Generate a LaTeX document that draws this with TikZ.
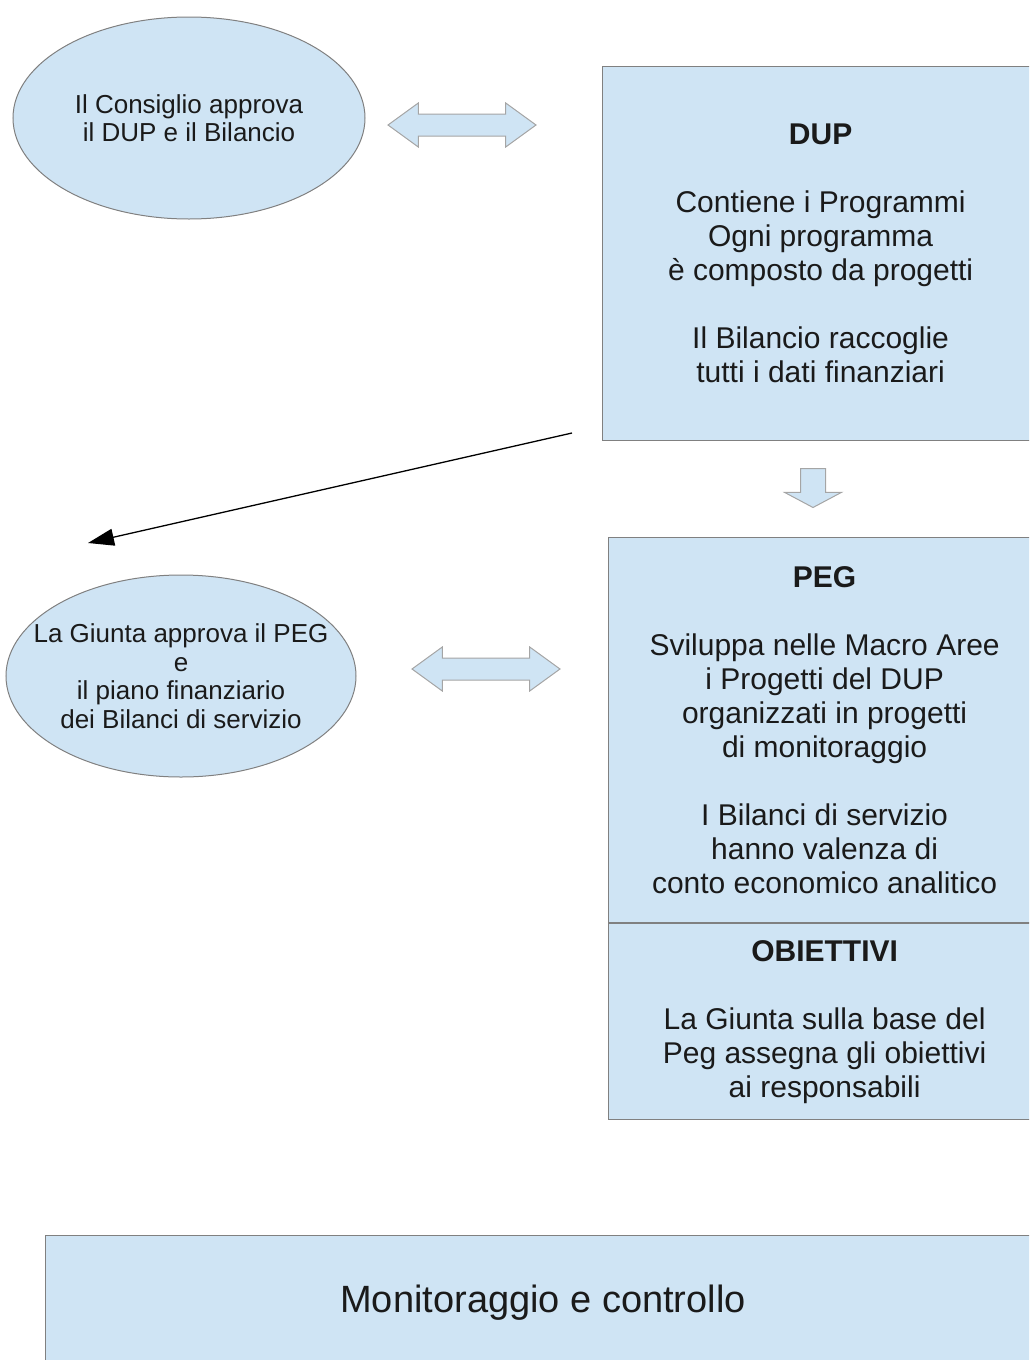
\documentclass[tikz,border=0pt]{standalone}
\usepackage{fontspec}
\setmainfont{Liberation Sans}
\usetikzlibrary{shapes.geometric,shapes.arrows,arrows.meta}
\definecolor{boxblue}{RGB}{207,228,244}
\definecolor{boxline}{RGB}{128,128,128}
\definecolor{arrline}{RGB}{165,165,165}
\definecolor{txt}{RGB}{26,26,26}

\begin{document}
\begin{tikzpicture}[x=1pt,y=-1pt,
    organo/.style={ellipse,draw=boxline,fill=boxblue,line width=1pt,minimum width=352pt,minimum height=202pt,inner sep=0pt},
    testo/.style={align=center,text=txt,font=\fontsize{26}{28.5}\selectfont},
    atto/.style={rectangle,draw=boxline,fill=boxblue,line width=1.2pt,anchor=north west,inner sep=0pt,align=center,text=txt,font=\fontsize{30}{34}\selectfont},
    scambio/.style={double arrow,draw=arrline,fill=boxblue,line width=1pt,inner sep=0pt,inner ysep=10.5pt,double arrow head extend=11pt,double arrow tip angle=72,minimum height=148pt,minimum width=43pt},
    freccia/.style={single arrow,shape border rotate=270,draw=arrline,fill=boxblue,line width=1pt,inner sep=12pt,single arrow head extend=16pt,single arrow tip angle=124,minimum height=39pt}]

            \useasboundingbox (0,0) rectangle (1029,1360);
            \clip (0,0) rectangle (1029,1360);

            \node[organo] (consiglio) at (189,118) {};
            \node[testo] at (consiglio) {Il Consiglio approva\\ il DUP e il Bilancio};
            \node[organo,minimum width=350pt] (giunta) at (181,676) {};
            \node[testo] at (giunta) {La Giunta approva il PEG\\e\\il piano finanziario\\dei Bilanci di servizio};

            \node[scambio] (sc1) at (462,125) {};
            \node[scambio] (sc2) at (486,669) {};

            \node[atto,minimum width=436pt,minimum height=374pt] (dup) at (602,66) {\textbf{DUP}\\[34pt]Contiene i Programmi\\Ogni programma\\è composto da progetti\\[34pt]Il Bilancio raccoglie\\tutti i dati finanziari};
            \node[freccia,anchor=tail] (giu) at (813,468) {};
            \node[atto,minimum width=432pt,minimum height=385pt] (peg) at (608,537) {\textbf{PEG}\\[34pt]Sviluppa nelle Macro Aree\\i Progetti del DUP\\organizzati in progetti\\di monitoraggio\\[34pt]I Bilanci di servizio\\hanno valenza di\\conto economico analitico};
            \node[atto,minimum width=432pt,minimum height=196pt] (obj) at (peg.south west) {\textbf{OBIETTIVI}\\[34pt]La Giunta sulla base del\\Peg assegna gli obiettivi\\ai responsabili};

            \node[atto,minimum width=995pt,minimum height=134pt,font=\fontsize{38}{44}\selectfont] (monit) at (45,1235) {Monitoraggio e controllo};

            \coordinate (da) at (572,433);
            \coordinate (a) at (88,543);
            \draw[-{Triangle[length=26pt,width=17pt]},line width=1.3pt] (da) -- (a);
\end{tikzpicture}
\end{document}
